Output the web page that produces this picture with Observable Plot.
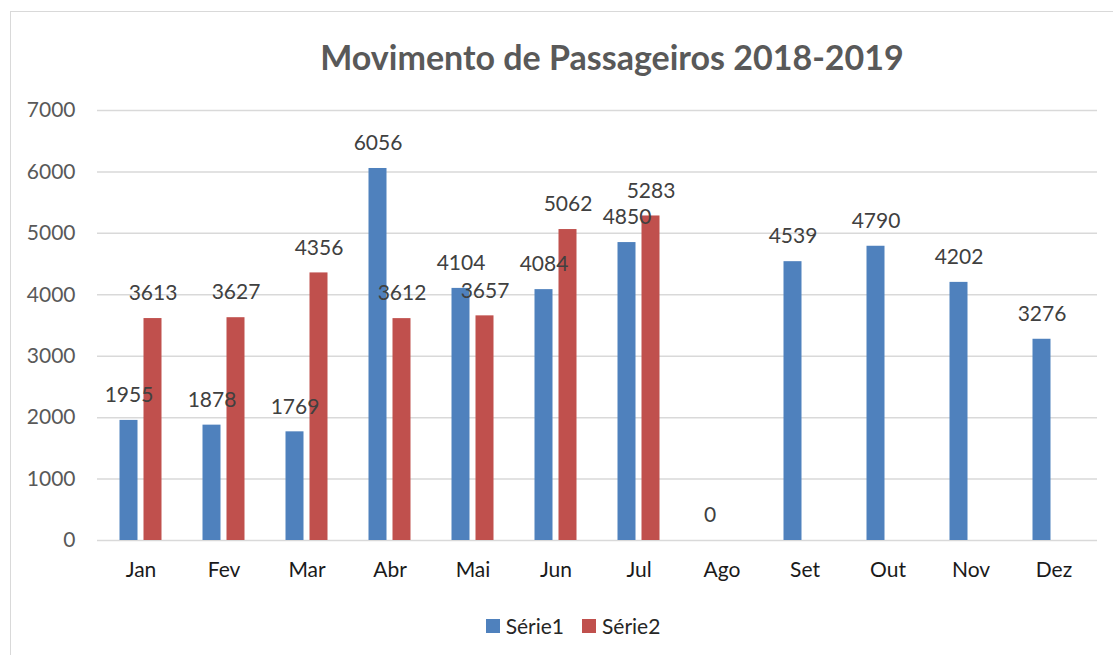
<!DOCTYPE html>
<html>
<head>
<meta charset="utf-8">
<script src="https://cdn.jsdelivr.net/npm/d3@7"></script>
<script src="https://cdn.jsdelivr.net/npm/@observablehq/plot@0.6"></script>
<style>
  body { margin: 0; background: #fff; }
  #wrap { position: relative; width: 1113px; height: 655px; overflow: hidden; font-family: Lato, "Open Sans", sans-serif; }
  #frame { position: absolute; left: 10px; top: 11px; width: 1200px; height: 700px; border: 1.5px solid #d9d9d9; box-sizing: border-box; }
  #title { position: absolute; left: 0; width: 1224px; top: 37px; text-align: center; font-size: 34px; line-height: 40px; font-weight: 700; color: #595959; }
  #chart { position: absolute; left: 0; top: 0; }
  #legend { position: absolute; top: 612px; left: 0; width: 1146px; text-align: center; font-size: 21px; line-height: 26px; color: #262626; }
  .item { display: inline-flex; align-items: center; margin: 0 9px; }
  .sw { width: 14px; height: 14px; display: inline-block; margin-right: 6px; }
</style>
</head>
<body>
<div id="wrap">
  <div id="frame"></div>
  <div id="title">Movimento de Passageiros 2018-2019</div>
  <div id="chart"></div>
  <div id="legend"></div>
</div>
<script>
const months = ["Jan","Fev","Mar","Abr","Mai","Jun","Jul","Ago","Set","Out","Nov","Dez"];
const serie1 = [1955, 1878, 1769, 6056, 4104, 4084, 4850, 0, 4539, 4790, 4202, 3276];
const serie2 = [3613, 3627, 4356, 3612, 3657, 5062, 5283];
const seriesNames = ["Série1", "Série2"];
const seriesColors = ["#4F81BD", "#C0504D"];
const yTicks = [0, 1000, 2000, 3000, 4000, 5000, 6000, 7000];

const d1 = serie1.map((v, i) => ({month: months[i], value: v}));
const d2 = serie2.map((v, i) => ({month: months[i], value: v}));

const labelStyle = {fontSize: 21, fill: "#404040", fontFamily: "Lato, sans-serif"};

const chart = Plot.plot({
  width: 1113,
  height: 600,
  marginLeft: 97,
  marginRight: 16,
  marginTop: 110,
  marginBottom: 60,
  style: {fontFamily: "Lato, sans-serif", background: "transparent"},
  x: {type: "band", domain: months, padding: 0, label: null},
  y: {domain: [0, 7000], label: null},
  marks: [
    Plot.ruleY(yTicks, {stroke: "#d9d9d9", strokeWidth: 1.5}),
    Plot.barY(d1, {x: "month", y: "value", fill: seriesColors[0], insetLeft: 20.5, insetRight: 44.5}),
    Plot.barY(d2, {x: "month", y: "value", fill: seriesColors[1], insetLeft: 44.5, insetRight: 20.5}),
    Plot.text(d1, {x: "month", y: "value", text: d => String(d.value), dx: -12, dy: -25, ...labelStyle}),
    Plot.text(d2, {x: "month", y: "value", text: d => String(d.value), dx: 12, dy: -25, ...labelStyle}),
    Plot.axisY({ticks: yTicks, tickSize: 0, tickPadding: 22, fontSize: 21, color: "#595959", tickFormat: d => String(d)}),
    Plot.axisX({tickSize: 0, tickPadding: 22, fontSize: 21, color: "#1a1a1a"})
  ]
});
document.getElementById("chart").appendChild(chart);

const legend = document.getElementById("legend");
seriesNames.forEach((n, i) => {
  const it = document.createElement("span");
  it.className = "item";
  it.innerHTML = `<span class="sw" style="background:${seriesColors[i]}"></span>${n}`;
  legend.appendChild(it);
});
</script>
</body>
</html>
